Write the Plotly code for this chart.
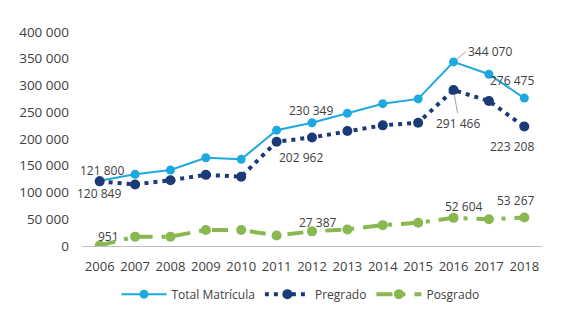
import plotly.graph_objects as go

years = ["2006", "2007", "2008", "2009", "2010", "2011", "2012", "2013", "2014", "2015", "2016", "2017", "2018"]
total = [121800, 134000, 142000, 165000, 162000, 216500, 230349, 248000, 266000, 275000, 344070, 321000, 276475]
pregrado = [120849, 115000, 123000, 133000, 129500, 195000, 202962, 215000, 225500, 230500, 291466, 271000, 223208]
posgrado = [951, 17500, 17500, 30000, 30000, 19500, 27387, 31000, 39000, 43500, 52604, 50000, 53267]
y_ticks = [0, 50000, 100000, 150000, 200000, 250000, 300000, 350000, 400000]
y_tick_text = ["0", "50 000", "100 000", "150 000", "200 000", "250 000", "300 000", "350 000", "400 000"]

C_TOTAL = "#1DA9E0"
C_PRE = "#1B3A78"
C_POS = "#88B84F"

def fmt(v):
    return f"{v:,}".replace(",", " ")

fig = go.Figure()
fig.add_trace(go.Scatter(x=years, y=total, name="Total Matrícula", mode="lines+markers",
                         line=dict(color=C_TOTAL, width=2), marker=dict(size=9, color=C_TOTAL)))
fig.add_trace(go.Scatter(x=years, y=pregrado, name="Pregrado", mode="lines+markers",
                         line=dict(color=C_PRE, width=4, dash="4px,5px"), marker=dict(size=10, color=C_PRE)))
fig.add_trace(go.Scatter(x=years, y=posgrado, name="Posgrado", mode="lines+markers",
                         line=dict(color=C_POS, width=4, dash="16px,9px,4px,9px"), marker=dict(size=10, color=C_POS)))

lab_font = dict(family="Open Sans, sans-serif", size=12, color="#404040")
# (series, index, xshift, yshift)
labels = [
    (total, 0, 2, 10),
    (pregrado, 0, -1, -12),
    (posgrado, 0, 9, 9),
    (total, 6, -1, 12),
    (pregrado, 6, -11, -20),
    (posgrado, 6, 6, 9),
    (total, 12, -12, 18),
    (pregrado, 12, -12, -20),
    (posgrado, 10, 10, 11),
    (posgrado, 12, -8, 17),
]
for series, i, dx, dy in labels:
    fig.add_annotation(x=i, y=series[i], text=fmt(series[i]), showarrow=False,
                       xshift=dx, yshift=dy, font=lab_font)

# labels with leader lines
fig.add_annotation(x=10, y=total[10], text=fmt(total[10]), showarrow=True, arrowhead=0,
                   arrowwidth=1, arrowcolor="#A6A6A6", ax=12, ay=-10, xanchor="left",
                   font=lab_font, standoff=4)
fig.add_annotation(x=10, y=pregrado[10], text=fmt(pregrado[10]), showarrow=True, arrowhead=0,
                   arrowwidth=1, arrowcolor="#A6A6A6", ax=4, ay=23, yanchor="top",
                   font=lab_font, standoff=4)

fig.update_layout(
    width=559, height=303,
    margin=dict(l=74, r=25, t=24, b=65, autoexpand=False),
    paper_bgcolor="white", plot_bgcolor="white",
    showlegend=True,
    legend=dict(orientation="h", x=0.475, xanchor="center", y=-0.225, yanchor="middle",
                font=dict(family="Open Sans, sans-serif", size=12, color="#404040"),
                itemwidth=45, tracegroupgap=0),
    xaxis=dict(type="category", range=[-0.5, 12.5], showgrid=False, showline=True,
               linecolor="#BFBFBF", linewidth=1, ticks="", ticklabelstandoff=8,
               tickfont=dict(family="Open Sans, sans-serif", size=13, color="#404040")),
    yaxis=dict(range=[0, 400000], tickvals=y_ticks, ticktext=y_tick_text, showgrid=False,
               zeroline=False, showline=False, ticks="", ticklabelstandoff=12,
               tickfont=dict(family="Open Sans, sans-serif", size=13.5, color="#404040")),
)

fig.write_html("out.html")
